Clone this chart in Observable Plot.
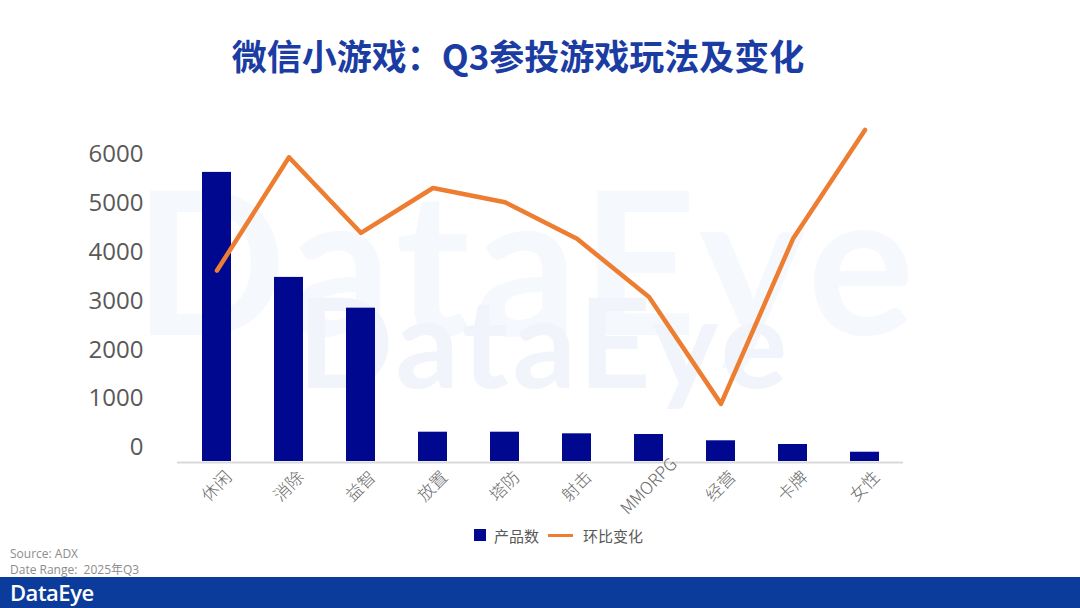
<!DOCTYPE html>
<html>
<head>
<meta charset="utf-8">
<script src="https://cdn.jsdelivr.net/npm/d3@7"></script>
<script src="https://cdn.jsdelivr.net/npm/@observablehq/plot@0.6"></script>
<style>
  html, body { margin: 0; padding: 0; background: #fff; }
  #page { position: relative; width: 1080px; height: 608px; overflow: hidden; background: #fff; font-family: "Noto Sans CJK SC", "Noto Sans", sans-serif; }
  #title { position: absolute; left: 0; top: 29px; width: 1036px; text-align: center; font-size: 35px; font-weight: bold; color: #1a3ca3; }
  .wm { position: absolute; font-family: Lato, "Open Sans", sans-serif; font-weight: 700; white-space: nowrap; }
  #wm1 { left: 134px; top: 138px; font-size: 200px; color: #f5f8fc; letter-spacing: 6px; }
  #wm2 { left: 298px; top: 265px; font-size: 125px; color: #f1f4fa; letter-spacing: 4px; }
  #chart { position: absolute; left: 0; top: 110px; }
  #legend { position: absolute; top: 524px; left: 474px; font-size: 15px; color: #595959; display: flex; align-items: center; height: 22px; }
  #legend .sw { width: 12px; height: 12px; background: #00088f; margin-right: 8px; }
  #legend .ln { width: 25px; height: 3px; background: #ED7D31; margin: 0 10px 0 9px; }
  #src { position: absolute; left: 10px; top: 546px; font-size: 12px; line-height: 16px; color: #8c8c8c; font-family: "Open Sans", "Noto Sans CJK SC", sans-serif; }
  #footer { position: absolute; left: 0; top: 577px; width: 1080px; height: 31px; background: #0b3c9c; }
  #logo { position: absolute; left: 10px; top: 0px; height: 31px; line-height: 31px; font-size: 22px; color: #fff; font-family: "Open Sans", Lato, sans-serif; font-weight: 600; letter-spacing: -0.5px; }
</style>
</head>
<body>
<div id="page">
  <div class="wm" id="wm1">DataEye</div>
  <div class="wm" id="wm2">DataEye</div>
  <div id="title">微信小游戏：Q3参投游戏玩法及变化</div>
  <div id="chart"></div>
  <div id="legend"><div class="sw"></div><span>产品数</span><div class="ln"></div><span>环比变化</span></div>
  <div id="src">Source: ADX<br>Date Range:&nbsp;&nbsp;2025年Q3</div>
  <div id="footer"><div id="logo">DataEye</div></div>
</div>
<script>
// Categories (game genres)
const categories = ["休闲", "消除", "益智", "放置", "塔防", "射击", "MMORPG", "经营", "卡牌", "女性"];
// 产品数 (bar series)
const productCounts = [5920, 3770, 3140, 600, 600, 567, 553, 424, 348, 190];
// 环比变化 (line series, drawn on the hidden secondary axis, expressed in primary-axis units)
const qoqChange = [3910, 6230, 4680, 5600, 5310, 4560, 3370, 1180, 4560, 6790];
// Y tick labels
const yTicks = [0, 1000, 2000, 3000, 4000, 5000, 6000];

const rows = categories.map((c, i) => ({ cat: c, count: productCounts[i], change: qoqChange[i] }));

const plot = Plot.plot({
  width: 1080,
  height: 420,
  marginLeft: 177,
  marginRight: 177,
  marginTop: 58,
  marginBottom: 69,
  style: { background: "transparent", overflow: "visible" },
  x: { domain: categories, paddingInner: 0.6, paddingOuter: 0.3, axis: null },
  y: { domain: [0, 6000], axis: null },
  marks: [
    Plot.barY(rows, { x: "cat", y: "count", fill: "#00088f" }),
    Plot.ruleY([0], { stroke: "#d9d9d9", strokeWidth: 2, dy: 1 }),
    Plot.axisY(yTicks, { tickSize: 0, tickPadding: 34, tickFormat: d => String(d), fontSize: 24, fill: "#595959", dy: -14, fontFamily: "'Open Sans', 'Noto Sans', sans-serif" }),
    Plot.text(rows, { x: "cat", y: () => 0, text: "cat", rotate: -45, dy: 25, textAnchor: "middle", lineAnchor: "middle", fontSize: 17, fill: "#6a6a6a", fontFamily: "'Noto Sans CJK SC', sans-serif", fontWeight: 300 }),
    Plot.lineY(rows, { x: "cat", y: "change", stroke: "#ED7D31", strokeWidth: 4.5, strokeLinejoin: "round", strokeLinecap: "round" })
  ]
});
document.getElementById("chart").appendChild(plot);
</script>
</body>
</html>
